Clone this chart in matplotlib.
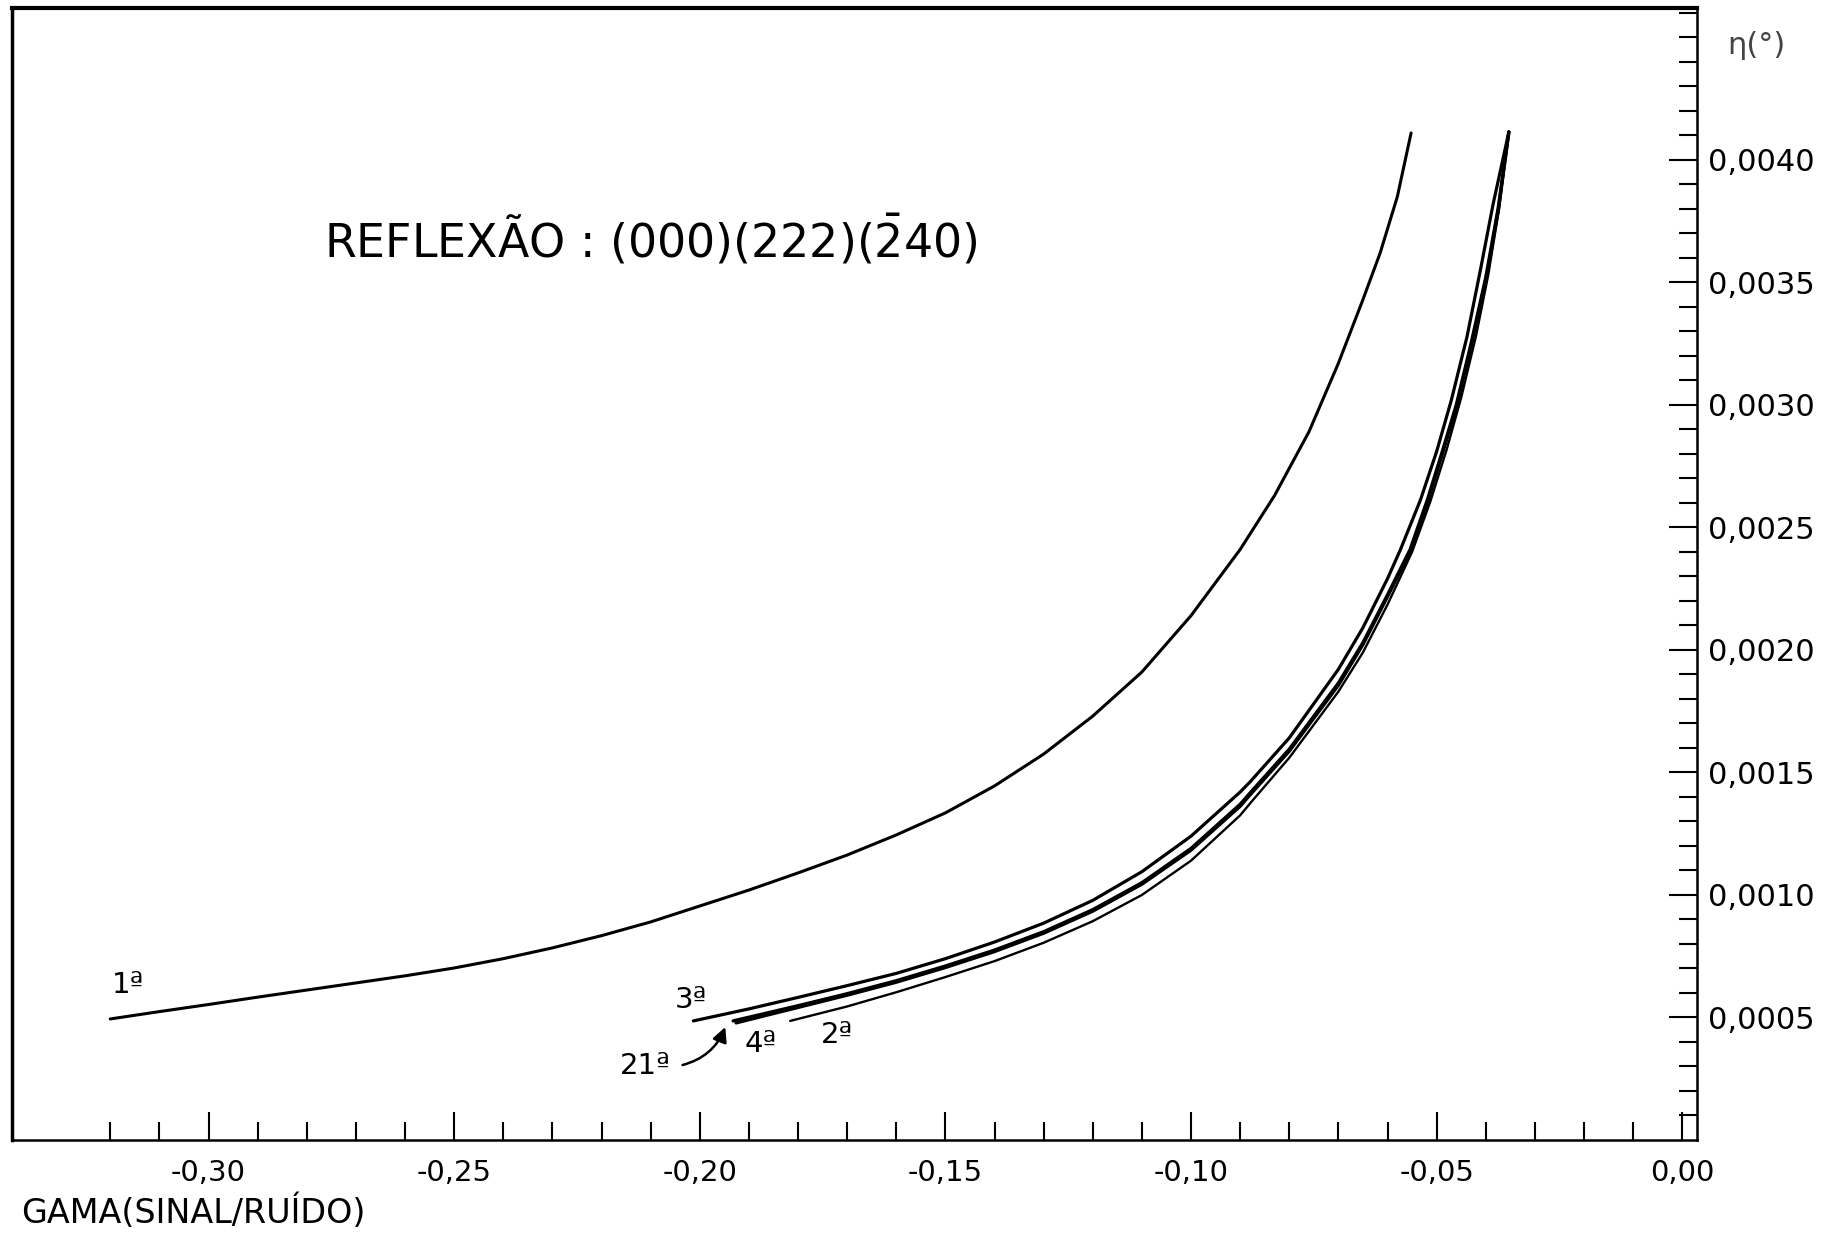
import matplotlib.pyplot as plt
from matplotlib.ticker import FixedLocator, FuncFormatter
import numpy as np

# curva 1a (superior)
c1_x = [-0.320, -0.310, -0.300, -0.290, -0.280, -0.270, -0.260, -0.250, -0.240, -0.230,
        -0.220, -0.210, -0.200, -0.190, -0.180, -0.170, -0.160, -0.150, -0.140, -0.130,
        -0.120, -0.110, -0.100, -0.090, -0.083, -0.076, -0.070, -0.065, -0.0615, -0.058,
        -0.0552]
c1_y = [0.000494, 0.000524, 0.000553, 0.000583, 0.000612, 0.000641, 0.000670, 0.000702,
        0.000740, 0.000784, 0.000834, 0.000890, 0.000955, 0.001020, 0.001090, 0.001163,
        0.001245, 0.001335, 0.001445, 0.001575, 0.001730, 0.001910, 0.002140, 0.002410,
        0.002630, 0.002890, 0.003170, 0.003430, 0.003620, 0.003850, 0.004110]

# grupo inferior: 3a, 4a, 21a, 2a
c3_x = [-0.2013, -0.190, -0.180, -0.170, -0.160, -0.150, -0.140, -0.130, -0.120, -0.110,
        -0.100, -0.090, -0.088, -0.080, -0.070, -0.065, -0.060, -0.0574, -0.0533, -0.050,
        -0.047, -0.0438, -0.041, -0.0385, -0.0353]
c3_y = [0.000486, 0.000535, 0.000582, 0.000630, 0.000680, 0.000740, 0.000808, 0.000885,
        0.000978, 0.001095, 0.001240, 0.001420, 0.001461, 0.001641, 0.001921, 0.002091,
        0.002291, 0.002408, 0.002612, 0.002810, 0.003020, 0.003280, 0.003560, 0.003820,
        0.004114]

c4_x = [-0.1932, -0.180, -0.170, -0.160, -0.150, -0.140, -0.130, -0.120, -0.110, -0.100,
        -0.090, -0.088, -0.080, -0.070, -0.065, -0.060, -0.0554, -0.0519, -0.049, -0.046,
        -0.043, -0.040, -0.0375, -0.0353]
c4_y = [0.000486, 0.000548, 0.000597, 0.000650, 0.000710, 0.000775, 0.000850, 0.000940,
        0.001050, 0.001190, 0.001370, 0.001416, 0.001595, 0.001865, 0.002030, 0.002225,
        0.002410, 0.002612, 0.002800, 0.003000, 0.003250, 0.003520, 0.003800, 0.004114]

c21_x = [-0.1926, -0.180, -0.170, -0.160, -0.150, -0.140, -0.130, -0.120, -0.110, -0.100,
         -0.090, -0.088, -0.080, -0.070, -0.065, -0.060, -0.0553, -0.0518, -0.0489, -0.0459,
         -0.0429, -0.0399, -0.0374, -0.0353]
c21_y = [0.000478, 0.000541, 0.000591, 0.000644, 0.000704, 0.000769, 0.000844, 0.000934,
         0.001044, 0.001183, 0.001362, 0.001408, 0.001587, 0.001856, 0.002022, 0.002218,
         0.002405, 0.002607, 0.002796, 0.002997, 0.003247, 0.003518, 0.003800, 0.004114]

c2_x = [-0.1816, -0.170, -0.160, -0.150, -0.140, -0.130, -0.120, -0.110, -0.100, -0.090,
        -0.0875, -0.080, -0.070, -0.065, -0.060, -0.055, -0.0513, -0.048, -0.045, -0.042,
        -0.0395, -0.0373, -0.0353]
c2_y = [0.000486, 0.000545, 0.000603, 0.000665, 0.000730, 0.000805, 0.000893, 0.001000,
        0.001140, 0.001325, 0.001385, 0.001560, 0.001830, 0.001990, 0.002185, 0.002400,
        0.002605, 0.002815, 0.003030, 0.003280, 0.003530, 0.003800, 0.004114]

x_major = [-0.30, -0.25, -0.20, -0.15, -0.10, -0.05, 0.00]
y_major = [0.0005, 0.0010, 0.0015, 0.0020, 0.0025, 0.0030, 0.0035, 0.0040]

fig = plt.figure(figsize=(18.34, 12.33), dpi=100)
ax = fig.add_axes([12 / 1834, 1 - 1140 / 1233, (1697 - 12) / 1834, (1140 - 8) / 1233])

kw = dict(color='black', solid_capstyle='round', solid_joinstyle='round')
ax.plot(c1_x, c1_y, lw=2.2, **kw)
ax.plot(c3_x, c3_y, lw=2.3, **kw)
ax.plot(c4_x, c4_y, lw=2.4, **kw)
ax.plot(c21_x, c21_y, lw=2.4, **kw)
ax.plot(c2_x, c2_y, lw=1.7, **kw)

ax.set_xlim(-0.34, 0.003)
ax.set_ylim(0, 0.00462)

ax.yaxis.tick_right()
ax.xaxis.set_major_locator(FixedLocator(x_major))
ax.xaxis.set_minor_locator(FixedLocator(np.round(np.arange(-0.32, 0.001, 0.01), 3)))
ax.yaxis.set_major_locator(FixedLocator(y_major))
ax.yaxis.set_minor_locator(FixedLocator(np.round(np.arange(0.0001, 0.00461, 0.0001), 5)))

ax.xaxis.set_major_formatter(FuncFormatter(lambda v, p: ('%.2f' % v).replace('.', ',')))
ax.yaxis.set_major_formatter(FuncFormatter(lambda v, p: ('%.4f' % v).replace('.', ',')))

ax.tick_params(axis='x', which='both', direction='in', width=1.5, labelsize=21, pad=14)
ax.tick_params(axis='x', which='major', length=20)
ax.tick_params(axis='x', which='minor', length=13)
ax.tick_params(axis='y', which='both', direction='in', width=1.5, labelsize=22, pad=8,
               left=False, right=True)
ax.tick_params(axis='y', which='major', length=20)
ax.tick_params(axis='y', which='minor', length=13)

for s in ['left', 'bottom', 'right']:
    ax.spines[s].set_linewidth(1.8)
ax.spines['top'].set_linewidth(3)
ax.spines['left'].set_linewidth(2.5)

ax.text(0.185, 0.795, r'REFLEXÃO : (000)(222)($\mathregular{\bar{2}}$40)',
        transform=ax.transAxes, fontsize=33, ha='left', va='center')

ax.text(-0.3163, 0.000633, '1ª', fontsize=21, ha='center', va='center')
ax.text(-0.2017, 0.000571, '3ª', fontsize=21, ha='center', va='center')
ax.text(-0.1875, 0.000390, '4ª', fontsize=21, ha='center', va='center')
ax.text(-0.1720, 0.000430, '2ª', fontsize=21, ha='center', va='center')
ax.text(-0.2111, 0.000300, '21ª', fontsize=21, ha='center', va='center')
ax.annotate('', xy=(-0.1948, 0.000461), xytext=(-0.2035, 0.000306),
            arrowprops=dict(arrowstyle='-|>', color='black', lw=1.8, mutation_scale=22,
                            shrinkA=0, shrinkB=0, connectionstyle='arc3,rad=0.25'))

fig.text(21 / 1834, 1 - 1212 / 1233, 'GAMA(SINAL/RUÍDO)', fontsize=24, ha='left', va='center')
fig.text(1727 / 1834, 1 - 45 / 1233, 'η(°)', fontsize=22, ha='left', va='center', color='#444444')

fig.savefig('out.png', dpi=100)
